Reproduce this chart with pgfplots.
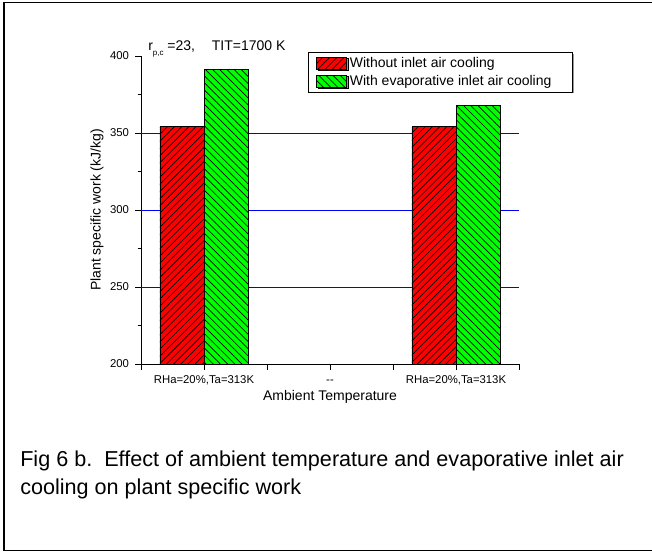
\documentclass[border=0pt]{standalone}
\usepackage{pgfplots}
\pgfplotsset{compat=1.18}
\usepackage{fontspec}
\setmainfont{Liberation Sans}
\usetikzlibrary{patterns.meta,shadows}
\definecolor{barred}{RGB}{255,0,0}
\definecolor{bargreen}{RGB}{0,255,0}
\begin{document}
\begin{tikzpicture}
\useasboundingbox (0,0) rectangle (489pt,414pt);
\fill[white] (0,0) rectangle (489pt,414pt);
\draw[line width=0.9pt] (495pt,412.1pt) -- (3pt,412.1pt) -- (3pt,1.1pt) -- (495pt,1.1pt);
\begin{axis}[
  at={(105.75pt,141pt)}, anchor=origin,
  scale only axis, width=283.5pt, height=231pt,
  xmin=0.5, xmax=3.5, ymin=200, ymax=400,
  axis lines*=left,
  axis line style={line width=0.7pt},
  ybar=0pt, bar width=0.35,
  xtick={0.5,1,1.5,2,2.5,3,3.5},
  xticklabels={,{RHa=20\%,Ta=313K},,{-{}-},,{RHa=20\%,Ta=313K},},
  ytick={200,250,300,350,400},
  minor y tick num=1,
  tick align=outside,
  major tick length=4.5pt, minor tick length=2.5pt,
  tick style={black, line width=0.6pt},
  /pgf/number format/assume math mode=true,
  ticklabel style={font=\fontsize{8.5}{10}\selectfont},
  yticklabel style={xshift=-1pt},
  xticklabel style={yshift=1.5pt, text height=1.6ex, text depth=0.3ex},
  extra y ticks={250,300,350},
  extra y tick labels={},
  extra y tick style={grid=major, major tick length=0pt},
  major grid style={blue, line width=0.6pt},
  legend cell align=left,
  legend style={at={(axis description cs:0.4418,1.013)}, anchor=north west,
    draw=black, line width=0.6pt, fill=white,
    font=\fontsize{10.5}{12}\selectfont,
    inner xsep=6pt, inner ysep=1.5pt, row sep=0.5pt,
    drop shadow={shadow xshift=1pt, shadow yshift=-1pt, fill=gray!80, opacity=1}},
  legend image code/.code={\draw[#1] (0pt,-4.5pt) rectangle (22.5pt,4.5pt);},
]
\addplot[draw=black, line width=0.6pt, fill=barred,
  postaction={pattern={Lines[angle=45,distance=3.8pt,line width=0.5pt]}}]
  coordinates {(1,354) (3,354)};
\addlegendentry{Without inlet air cooling}
\addplot[draw=black, line width=0.6pt, fill=bargreen,
  postaction={pattern={Lines[angle=-45,distance=3.8pt,line width=0.5pt]}}]
  coordinates {(1,391) (3,368)};
\addlegendentry{With evaporative inlet air cooling\hspace*{8pt}}
\end{axis}
\node[rotate=90, font=\fontsize{10.5}{12}\selectfont] at (72.75pt,256.5pt) {Plant specific work (kJ/kg)};
\node[font=\fontsize{10.5}{12}\selectfont] at (247.5pt,116.25pt) {Ambient Temperature};
\node[anchor=west, inner sep=0pt, font=\fontsize{10.5}{12}\selectfont] at (111pt,377.25pt) {r\raisebox{-0.6ex}{\fontsize{6}{7}\selectfont p,c} =23,\hspace{1.2em}TIT=1700 K};
\node[anchor=base west, inner sep=0pt, font=\fontsize{16.2}{18}\selectfont] at (15pt,63.75pt) {Fig 6 b.\ \ Effect of ambient temperature and evaporative inlet air};
\node[anchor=base west, inner sep=0pt, font=\fontsize{16.2}{18}\selectfont] at (15pt,42.75pt) {cooling on plant specific work};
\end{tikzpicture}
\end{document}
